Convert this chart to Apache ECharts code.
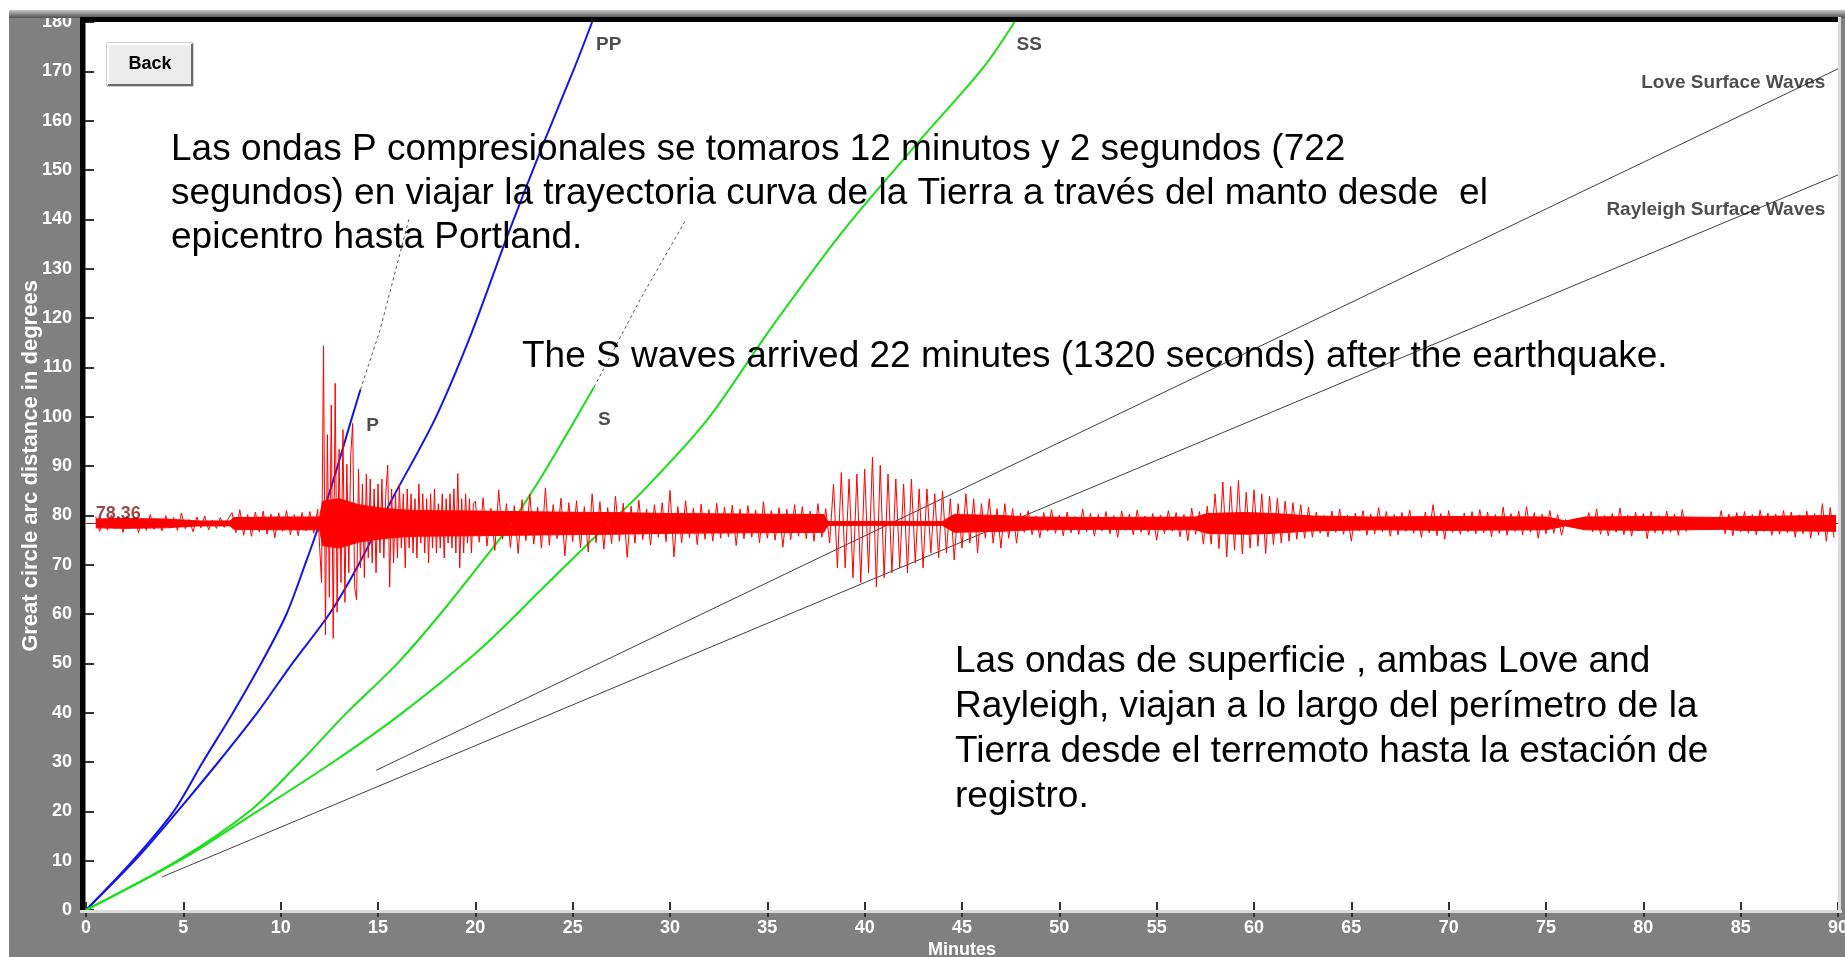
<!DOCTYPE html>
<html><head><meta charset="utf-8">
<script src="https://cdn.jsdelivr.net/npm/echarts/dist/echarts.min.js"></script>
<style>
html,body{margin:0;padding:0;background:#fff;overflow:hidden;}
#frame{position:absolute;left:9px;top:10px;width:1836px;height:947px;background:#808080;}
#chart{position:absolute;left:0;top:0;width:1845px;height:957px;}
</style></head><body>
<div id="frame"></div><div id="chart"></div>
<script>
// ---------- axes ----------
const xTicks = {min: 0, max: 90, interval: 5};   // Minutes
const yTicks = {min: 0, max: 180, interval: 10}; // degrees
const stationDistance = 78.36;

// ---------- travel-time curves (minutes, degrees) ----------
const pTime  = [0, 2.4, 4.5, 6.0, 7.55, 9.0, 10.3, 11.25, 12.0, 12.85, 13.6, 14.1];
const pDist  = [0, 10, 20, 30, 40, 50, 60, 70, 78.4, 89, 99, 105.5];
const pDiffTime = [14.1, 15.1, 16.6];
const pDiffDist = [105.5, 117.5, 140.2];
const ppTime = [0, 2.5, 4.7, 6.8, 8.8, 10.6, 12.5, 14.0, 15.7, 17.9, 19.8, 21.7, 23.5, 25.1, 26.0];
const ppDist = [0, 10, 20, 30, 40, 50, 60, 70, 83.1, 99.3, 116.9, 137.2, 155.4, 170.8, 180];
const sTime  = [0, 4.7, 8.4, 11.0, 13.4, 16.0, 18.2, 20.8, 21.7, 23.5, 26.1];
const sDist  = [0, 10, 20, 30, 40, 50, 60, 72.9, 77.6, 88.5, 106];
const sDiffTime = [26.1, 28.5, 30.8];
const sDiffDist = [106, 124, 139.8];
const ssTime = [0, 4.8, 8.8, 12.7, 16.1, 20.2, 23.4, 26.5, 28.5, 31.9, 35.0, 38.8, 42.7, 46.1, 47.7];
const ssDist = [0, 10, 20, 30, 39.5, 52.7, 65, 77, 84.5, 99.3, 116.9, 137.2, 155.4, 170.8, 180];
const loveTime = [14.9, 90];
const loveDist = [28.3, 170.5];
const rayTime  = [3.9, 90];
const rayDist  = [6.7, 149];

// ---------- seismogram: deviation (degrees) from the station line ----------
const seisQuiet = [ // 0.5 .. 11.9 min, every 0.2 min
 1.4,-1.6,0.9,-1.3,1.7,-1.1,1.2,-1.8,1.5,-0.9,
 1.3,-1.9,1.0,-1.4,1.8,-1.2,0.9,-1.5,1.6,-1.0,
 1.2,-1.4,2.1,-1.1,0.8,-1.7,1.3,-0.9,1.5,-1.3,
 0.7,-1.0,1.2,-0.8,0.9,
 2.2,-1.9,2.8,-2.4,1.8,-2.6,2.3,-1.7,2.5,-2.2,
 1.9,-2.9,2.1,-1.6,2.6,-2.3,1.8,-2.5,2.2,-1.5,
 2.4,-2.0,2.9];
const seisPArrival = [ // 12.0 .. 19.9 min, every 0.1 min
 3.0,-12.0,36.0,-22.6,18.0,-15.0,24.0,-23.3,28.4,-18.0,
 15.0,-12.0,19.0,-16.0,12.0,-10.0,14.0,20.3,-13.0,-15.5,
 11.0,-9.0,8.0,-11.0,10.0,-7.0,9.0,-8.0,7.0,-10.0,
 8.0,-6.0,9.0,-7.0,6.0,11.8,-12.9,7.0,-8.0,6.0,
 -7.0,8.0,-5.0,6.0,-9.0,7.0,-5.0,6.0,-6.0,5.0,
 -7.0,8.0,-4.0,6.0,-6.0,5.0,-8.0,6.0,-5.0,7.0,
 -6.0,4.0,-5.0,6.0,-7.0,5.0,-4.0,6.0,-5.0,7.0,
 -6.0,10.1,-9.0,5.0,-6.0,6.0,-4.0,5.0,-6.0,4.0];
const seisCoda = [ // 20.0 .. 37.8 min, every 0.2 min
 4.5,-3.8,5.2,-4.6,3.1,-5.5,6.8,-3.2,4.0,-4.9,
 3.6,-6.1,4.8,-3.5,5.9,-4.2,3.3,-5.0,7.2,-4.4,
 3.8,-3.1,5.1,-6.6,4.2,-3.7,4.6,-4.9,3.4,-5.8,
 6.0,-3.9,4.4,-5.2,3.2,-4.1,5.5,-3.6,4.1,-6.9,
 3.5,-4.0,4.7,-3.3,2.9,-4.4,3.8,-2.8,4.2,-3.7,
 6.7,-6.8,3.4,-3.9,4.6,-2.9,3.1,-4.3,3.9,-3.2,
 2.8,-3.6,4.1,-3.0,3.3,-2.7,3.7,-4.5,2.9,-3.1,
 3.6,-2.8,2.7,-3.9,4.4,-3.0,2.6,-3.4,3.2,-4.8,
 2.9,-3.3,3.8,-2.6,3.4,-3.1,2.5,-3.6,4.0,-2.8];
const seisSurface = [ // 38.0 .. 47.8 min, every 0.2 min
 3.0,-4.0,8.0,-9.0,10.3,-9.0,9.0,-11.0,10.0,-12.0,
 11.0,-10.0,13.4,-12.9,11.8,-11.0,10.0,-10.0,9.0,-9.0,
 8.0,-10.0,9.0,-8.0,7.0,-9.0,7.0,-6.0,6.0,-7.0,
 6.6,-6.0,5.0,-7.4,4.0,-5.0,6.0,-4.0,5.0,-6.0,
 4.0,-3.0,5.0,-4.0,3.0,-5.0,4.0,-3.0,3.0,-4.0];
const seisLate = [ // 48.0 .. 89.8 min, every 0.2 min
 2.1,-1.8,2.6,-2.3,1.5,-2.9,2.2,-1.6,2.8,-2.0,
 1.7,-2.5,2.3,-1.9,1.4,-2.2,2.9,-1.7,2.0,-2.6,
 1.8,-1.5,2.4,-2.1,1.6,-2.8,2.5,-1.4,1.9,-2.3,
 2.7,-1.8,1.5,-2.4,2.0,-3.4,1.7,-2.1,2.6,-1.6,
 2.2,-2.7,1.8,-3.5,3.1,-2.2,2.4,-4.2,
 3.5,-4.2,6.0,-5.1,8.4,-6.8,7.5,-5.4,8.7,-6.2,
 6.3,-5.0,6.8,-4.6,6.0,-6.1,5.5,-4.3,
 5.1,-4.0,4.5,-3.6,4.2,-3.2,3.8,-3.0,3.3,-2.8,
 2.3,-2.0,1.6,-2.7,2.5,-1.8,2.9,-2.2,1.7,-3.6,
 2.1,-1.5,2.6,-2.4,1.9,-2.1,3.2,-1.7,2.4,-2.6,
 1.8,-2.3,2.2,-1.6,2.7,-2.0,1.5,-2.8,2.3,-1.9,
 3.8,-2.5,2.0,-3.2,2.6,-1.8,1.4,-2.2,2.1,-1.7,
 2.4,-2.1,2.8,-1.9,2.3,-2.7,1.8,-2.0,3.3,-2.4,
 2.0,-1.6,2.5,-2.3,3.4,-1.8,2.2,-3.0,1.9,-2.1,
 2.6,-2.0,1.8,-2.4,0.8,-0.7,0.9,-0.6,0.8,-0.9,
 2.2,-1.7,2.9,-2.2,1.6,-2.5,2.0,-1.8,3.1,-2.3,
 1.7,-2.6,2.3,-1.5,2.0,-3.1,2.4,-1.9,1.6,-2.2,
 2.5,-1.8,1.9,-2.4,2.8,-1.6,1.3,-0.9,1.1,-0.8,
 1.0,-0.9,0.8,-1.1,2.6,-2.1,1.9,-2.5,2.2,-1.7,
 2.4,-2.0,1.8,-2.3,2.7,-1.6,2.1,-2.4,1.9,-2.2,
 2.6,-1.9,2.3,-2.8,1.7,-2.1,2.5,-3.0,2.0,-2.4,
 4.0,-3.6,3.2,-2.9];
const seisSegStart = [0.5, 12.0, 20.0, 38.0, 48.0];
const seisSegStep  = [0.2, 0.1, 0.2, 0.2, 0.2];
const seisSegs = [seisQuiet, seisPArrival, seisCoda, seisSurface, seisLate];
// half-width (degrees) of the solid, densely over-written core of the trace
const envTime = [0.5, 2, 4, 5.8, 7.4, 7.6, 10, 12.0, 12.15, 13, 14, 15, 16, 17, 20, 24, 27, 30, 34, 37.9,
                 38.1, 44, 44.6, 47, 48.5, 52, 57, 57.6, 59.5, 61, 63, 66, 70, 75, 76, 77, 80, 84, 85, 89.9];
const envHalf = [0.9, 1.0, 0.9, 0.5, 0.5, 1.2, 1.3, 1.3, 4.5, 5.0, 3.8, 3.2, 2.8, 2.6, 2.5, 2.3, 2.2, 2.0, 1.9, 1.8,
                 0.4, 0.4, 1.8, 1.6, 1.3, 1.2, 1.3, 2.0, 2.2, 2.0, 1.5, 1.3, 1.4, 1.3, 0.5, 1.3, 1.4, 1.2, 1.4, 1.6];

// ---------- curve labels ----------
const curveLabelText = ['PP', 'SS', 'P', 'S'];
const curveLabelMin  = [26.2, 47.8, 14.4, 26.3];
const curveLabelDeg  = [175.4, 175.4, 98.2, 99.3];
const surfLabelText = ['Love Surface Waves', 'Rayleigh Surface Waves'];
const surfLabelMin  = [89.35, 89.35];
const surfLabelDeg  = [167.6, 141.9];

// ---------- build ----------
const zip = (a, b) => a.map((v, i) => [v, b[i]]);
const seis = [];
seisSegs.forEach((seg, k) => {
  seg.forEach((d, i) => {
    const t = +(seisSegStart[k] + i * seisSegStep[k]).toFixed(2);
    seis.push([t, +(stationDistance + d).toFixed(2)]);
  });
});
const envUpper = envTime.map((t, i) => [t, stationDistance + envHalf[i]]);
const envLower = envTime.map((t, i) => [t, stationDistance - envHalf[i]]);

const FONT = '"Liberation Sans", Arial, sans-serif';
const tickLabel = {
  color: '#fff', fontWeight: 'bold', fontSize: 18, fontFamily: FONT,
  textShadowColor: '#000', textShadowOffsetX: 1, textShadowOffsetY: 1, textShadowBlur: 0
};
const blue = '#1414ee', green = '#18e018';
const lineS = (name, data, color, width, type, z, smooth) => ({
  name, type: 'line', data, symbol: 'none', silent: true, z: z || 2, smooth: smooth || false,
  lineStyle: {color, width, type: type || 'solid'}, itemStyle: {color}
});
const band = (name, data) => ({
  name, type: 'line', data, symbol: 'none', silent: true, z: 3,
  lineStyle: {color: '#ff0000', width: 1}, itemStyle: {color: '#ff0000'},
  areaStyle: {color: '#ff0000', opacity: 1, origin: stationDistance}
});

const chart = echarts.init(document.getElementById('chart'), null, {renderer: 'canvas'});
chart.setOption({
  animation: false,
  backgroundColor: 'transparent',
  grid: {left: 86, width: 1752, top: 22, height: 888, show: true, backgroundColor: '#fff', borderWidth: 0,
         containLabel: false, outerBoundsMode: 'none'},
  xAxis: [
    {type: 'value', position: 'bottom', min: xTicks.min, max: xTicks.max, interval: xTicks.interval,
     axisLine: {show: false}, splitLine: {show: false},
     axisTick: {show: true, inside: true, length: 8, lineStyle: {color: '#333', width: 2}},
     axisLabel: Object.assign({margin: 9}, tickLabel),
     name: 'Minutes', nameLocation: 'middle', nameGap: 31, nameMoveOverlap: false,
     nameTextStyle: Object.assign({}, tickLabel)},
    {type: 'value', position: 'top', min: xTicks.min, max: xTicks.max, interval: xTicks.interval,
     axisLine: {show: false}, splitLine: {show: false}, axisLabel: {show: false},
     axisTick: {show: true, inside: true, length: 7, lineStyle: {color: '#333', width: 2}}}
  ],
  yAxis: [
    {type: 'value', position: 'left', min: yTicks.min, max: yTicks.max, interval: yTicks.interval,
     axisLine: {show: false}, splitLine: {show: false},
     axisTick: {show: true, inside: true, length: 8, lineStyle: {color: '#333', width: 2}},
     axisLabel: Object.assign({margin: 14}, tickLabel),
     name: 'Great circle arc distance in degrees', nameLocation: 'middle', nameGap: 44, nameMoveOverlap: false,
     nameTextStyle: Object.assign({}, tickLabel, {fontSize: 22})},
    {type: 'value', position: 'right', min: yTicks.min, max: yTicks.max, interval: yTicks.interval,
     axisLine: {show: false}, splitLine: {show: false}, axisLabel: {show: false},
     axisTick: {show: true, inside: true, length: 6, lineStyle: {color: '#333', width: 2}}}
  ],
  series: [
    lineS('station', [[xTicks.min, stationDistance], [xTicks.max, stationDistance]], '#7a1a1a', 1, 'solid', 1),
    lineS('Love', zip(loveTime, loveDist), '#404040', 1),
    lineS('Rayleigh', zip(rayTime, rayDist), '#404040', 1),
    lineS('Pdiff', zip(pDiffTime, pDiffDist), '#555', 1, [3, 3]),
    lineS('Sdiff', zip(sDiffTime, sDiffDist), '#555', 1, [3, 3]),
    lineS('P', zip(pTime, pDist), blue, 2, 'solid', 2, 0.3),
    lineS('PP', zip(ppTime, ppDist), blue, 2, 'solid', 2, 0.3),
    lineS('S', zip(sTime, sDist), green, 2, 'solid', 2, 0.3),
    lineS('SS', zip(ssTime, ssDist), green, 2, 'solid', 2, 0.3),
    band('coreUpper', envUpper),
    band('coreLower', envLower),
    lineS('seismogram', seis, '#ff0000', 1, 'solid', 4),
    {type: 'scatter', silent: true, symbolSize: 0, z: 5,
     data: [[0.5, stationDistance]],
     label: {show: true, position: 'right', distance: 0, offset: [0, -9], formatter: stationDistance.toFixed(2),
             color: '#7f1d1d', fontSize: 18, fontWeight: 'bold', fontFamily: FONT}},
    {type: 'scatter', silent: true, symbolSize: 0, z: 5,
     data: curveLabelText.map((t, i) => ({value: [curveLabelMin[i], curveLabelDeg[i]], name: t})),
     label: {show: true, position: 'right', distance: 0, formatter: '{b}',
             color: '#222', fontSize: 19, fontWeight: 'bold', fontFamily: FONT}},
    {type: 'scatter', silent: true, symbolSize: 0, z: 5,
     data: surfLabelText.map((t, i) => ({value: [surfLabelMin[i], surfLabelDeg[i]], name: t})),
     label: {show: true, position: 'left', distance: 0, formatter: '{b}',
             color: '#222', fontSize: 19, fontWeight: 'bold', fontFamily: FONT}}
  ],
  graphic: [
    // frame bevels
    {type: 'rect', z: 10, shape: {x: 9, y: 10, width: 1836, height: 8},
     style: {fill: new echarts.graphic.LinearGradient(0, 0, 0, 1, [{offset: 0, color: '#c8c8c8'}, {offset: 1, color: '#505050'}])}},
    {type: 'rect', z: 10, shape: {x: 80, y: 17, width: 1760, height: 5}, style: {fill: '#000'}},
    {type: 'rect', z: 10, shape: {x: 80, y: 17, width: 5, height: 894}, style: {fill: '#000'}},
    {type: 'rect', z: 10, shape: {x: 80, y: 910, width: 1762, height: 3}, style: {fill: '#dcdcdc'}},
    {type: 'rect', z: 10, shape: {x: 1838, y: 17, width: 3, height: 896}, style: {fill: '#dcdcdc'}},
    // Back button
    {type: 'group', z: 20, x: 107, y: 43, children: [
      {type: 'rect', shape: {x: 0, y: 0, width: 86, height: 43}, style: {fill: '#ececec', stroke: '#a0a0a0', lineWidth: 1}},
      {type: 'polyline', shape: {points: [[1, 42], [1, 1], [85, 1]]}, style: {stroke: '#fff', lineWidth: 2, fill: null}},
      {type: 'polyline', shape: {points: [[1, 42], [85, 42], [85, 1]]}, style: {stroke: '#6a6a6a', lineWidth: 2, fill: null}},
      {type: 'text', style: {text: 'Back', x: 43, y: 21, align: 'center', verticalAlign: 'middle',
        font: 'bold 18px ' + FONT, fill: '#000'}}
    ]},
    // annotations
    {type: 'text', z: 20, style: {x: 171, y: 128, verticalAlign: 'top', lineHeight: 44, fill: '#000',
      font: '37px ' + FONT,
      text: 'Las ondas P compresionales se tomaros 12 minutos y 2 segundos (722\nsegundos) en viajar la trayectoria curva de la Tierra a través del manto desde  el\nepicentro hasta Portland.'}},
    {type: 'text', z: 20, style: {x: 522, y: 335, verticalAlign: 'top', lineHeight: 44, fill: '#000',
      font: '37px ' + FONT,
      text: 'The S waves arrived 22 minutes (1320 seconds) after the earthquake.'}},
    {type: 'text', z: 20, style: {x: 955, y: 639, verticalAlign: 'top', lineHeight: 45, fill: '#000',
      font: '37px ' + FONT,
      text: 'Las ondas de superficie , ambas Love and\nRayleigh, viajan a lo largo del perímetro de la\nTierra desde el terremoto hasta la estación de\nregistro.'}}
  ]
});
</script></body></html>
